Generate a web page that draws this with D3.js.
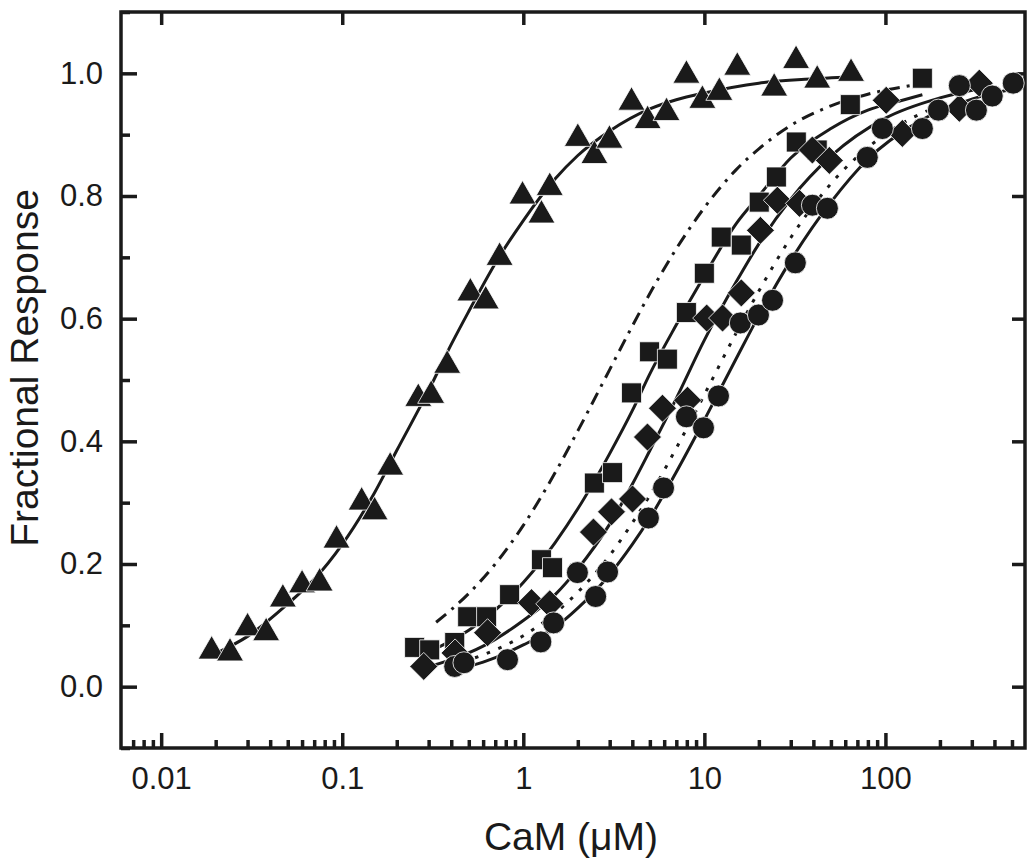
<!DOCTYPE html>
<html>
<head>
<meta charset="utf-8">
<script src="https://cdn.jsdelivr.net/npm/d3@7"></script>
<style>
  body { margin: 0; background: #fff; }
  svg { display: block; }
  text { font-family: "Liberation Sans", Arial, sans-serif; fill: #1a1a1a; }
</style>
</head>
<body>
<div id="chart"></div>
<script>
// data points, [CaM (uM), fractional response]
var triangles = [[0.019,0.058],[0.024,0.055],[0.030,0.096],[0.038,0.088],[0.047,0.143],[0.060,0.166],
  [0.075,0.169],[0.093,0.239],[0.128,0.301],[0.151,0.285],[0.184,0.358],[0.263,0.470],[0.31,0.475],
  [0.38,0.524],[0.51,0.642],[0.62,0.629],[0.74,0.70],[0.99,0.80],[1.26,0.769],[1.40,0.814],[2.0,0.894],
  [2.47,0.866],[2.99,0.891],[3.96,0.953],[4.86,0.923],[6.18,0.936],[7.96,0.997],[9.75,0.956],[12.1,0.969],
  [15.2,1.01],[24.3,0.976],[32.1,1.021],[42,0.989],[64.6,1.0]];

var squares = [[0.251,0.064],[0.304,0.060],[0.418,0.072],[0.493,0.114],[0.627,0.114],[0.84,0.150],
  [1.26,0.207],[1.45,0.194],[2.47,0.332],[3.11,0.349],[3.96,0.479],[4.98,0.546],[6.25,0.534],[7.96,0.610],
  [10.0,0.674],[12.4,0.733],[16.0,0.720],[20.1,0.790],[25.0,0.831],[32.2,0.888],[42,0.875],[64,0.949],
  [160,0.992]];

var diamonds = [[0.282,0.033],[0.42,0.055],[0.635,0.088],[1.11,0.137],[1.40,0.135],[2.44,0.252],
  [3.07,0.285],[4.01,0.306],[4.85,0.407],[5.87,0.454],[8.07,0.467],[10.3,0.601],[12.6,0.601],[16.0,0.642],
  [20.4,0.744],[25.3,0.793],[33.5,0.788],[39.5,0.875],[49,0.858],[101,0.956],[124,0.902],[256,0.943],
  [330,0.984]];

var circles = [[0.418,0.033],[0.47,0.039],[0.818,0.044],[1.25,0.073],[1.47,0.104],[1.99,0.186],
  [2.51,0.147],[2.92,0.187],[4.91,0.275],[5.95,0.324],[7.96,0.440],[9.89,0.422],[11.97,0.474],[15.8,0.593],
  [19.9,0.606],[23.8,0.630],[31.8,0.691],[39.5,0.785],[47.8,0.780],[79.4,0.863],[96.2,0.910],[160,0.910],
  [196,0.940],[256,0.980],[318,0.940],[389,0.963],[508,0.984]];

// fitted curves
var triFit = [[0.02,0.054],[0.03,0.082],[0.05,0.135],[0.07,0.175],[0.1,0.232],[0.15,0.315],[0.2,0.385],
  [0.3,0.483],[0.4,0.558],[0.5,0.612],[0.7,0.690],[1,0.760],[1.5,0.828],[2,0.866],[3,0.906],[5,0.942],
  [7,0.957],[10,0.968],[20,0.984],[40,0.991],[70,0.995]];
var sqFit = [[0.25,0.050],[0.35,0.066],[0.5,0.092],[0.7,0.125],[1,0.170],[1.5,0.235],[2,0.290],[3,0.380],
  [4,0.450],[5,0.510],[7,0.590],[10,0.670],[15,0.755],[20,0.800],[30,0.862],[50,0.910],[80,0.940],
  [120,0.955],[160,0.965]];
var diaFit = [[0.28,0.030],[0.4,0.044],[0.6,0.066],[1,0.108],[1.5,0.150],[2,0.192],[3,0.265],[4,0.330],
  [5,0.385],[7,0.470],[10,0.565],[15,0.660],[20,0.722],[30,0.795],[50,0.865],[100,0.927],[200,0.960],
  [330,0.975]];
var cirFit = [[0.43,0.028],[0.6,0.040],[1,0.068],[1.5,0.097],[2,0.128],[3,0.183],[4,0.232],[5,0.275],
  [7,0.350],[10,0.435],[15,0.535],[20,0.605],[30,0.695],[50,0.790],[80,0.860],[150,0.920],[300,0.958],
  [550,0.976]];
var dashDotFit = [[0.33,0.105],[0.5,0.152],[0.7,0.200],[1,0.263],[1.5,0.349],[2,0.417],[3,0.517],
  [4,0.588],[5,0.641],[7,0.714],[10,0.781],[15,0.843],[20,0.877],[30,0.915],[50,0.947],[80,0.966],
  [120,0.977],[155,0.982]];
var dotFit = [[0.4,0.035],[0.6,0.052],[1,0.083],[1.5,0.120],[2,0.154],[3,0.214],[4,0.267],[5,0.312],
  [7,0.389],[10,0.476],[15,0.577],[20,0.645],[30,0.732],[50,0.820],[80,0.879],[120,0.916],[170,0.939]];

var xMajor = [0.01, 0.1, 1, 10, 100];
var xLabels = ["0.01", "0.1", "1", "10", "100"];
var yMajor = [0.0, 0.2, 0.4, 0.6, 0.8, 1.0];
var yMinor = [-0.1, 0.1, 0.3, 0.5, 0.7, 0.9, 1.1];

var svgWidth = 1036;
var svgHeight = 865;
var ink = "#1a1a1a";

var margin = { top: 12, right: 11, bottom: 117, left: 121 };
var width = svgWidth - margin.left - margin.right;
var height = svgHeight - margin.top - margin.bottom;

var svg = d3.select("#chart")
    .append("svg")
    .attr("width", svgWidth)
    .attr("height", svgHeight);

var chartGroup = svg.append("g")
    .attr("transform", `translate(${margin.left}, ${margin.top})`);

var x = d3.scaleLog().domain([0.006, 590]).range([0, width]);
var y = d3.scaleLinear().domain([-0.1, 1.1]).range([height, 0]);

// minor log ticks: 2..9 of every decade inside the domain
var xMinor = [];
for (var e = -3; e <= 2; e++) {
    for (var m = 2; m <= 9; m++) {
        var v = m * Math.pow(10, e);
        if (v > 0.006 && v < 590) xMinor.push(v);
    }
}

function styleAxis(g) {
    g.select(".domain").remove();
    g.selectAll(".tick line").attr("stroke", ink).attr("stroke-width", 3.5);
    g.selectAll(".tick text")
        .style("font-family", '"Liberation Sans", Arial, sans-serif')
        .style("font-size", "31px")
        .attr("fill", ink);
}

// bottom axis
chartGroup.append("g")
    .attr("transform", `translate(0, ${height})`)
    .call(d3.axisBottom(x).tickValues(xMinor).tickSize(-8).tickFormat(""))
    .call(styleAxis);
chartGroup.append("g")
    .attr("transform", `translate(0, ${height})`)
    .call(d3.axisBottom(x).tickValues(xMajor).tickSize(-15).tickPadding(19)
        .tickFormat((d, i) => xLabels[i]))
    .call(styleAxis);

// top axis, majors only
chartGroup.append("g")
    .call(d3.axisTop(x).tickValues(xMajor).tickSize(-13).tickFormat(""))
    .call(styleAxis);

// left axis
chartGroup.append("g")
    .call(d3.axisLeft(y).tickValues(yMinor).tickSize(-9).tickFormat(""))
    .call(styleAxis);
chartGroup.append("g")
    .call(d3.axisLeft(y).tickValues(yMajor).tickSize(-16).tickPadding(18).tickFormat(d3.format(".1f")))
    .call(styleAxis);

// right axis
chartGroup.append("g")
    .attr("transform", `translate(${width}, 0)`)
    .call(d3.axisRight(y).tickValues(yMajor).tickSize(-13).tickFormat(""))
    .call(styleAxis);

// frame
chartGroup.append("rect")
    .attr("x", 0).attr("y", 0)
    .attr("width", width).attr("height", height)
    .attr("fill", "none")
    .attr("stroke", ink)
    .attr("stroke-width", 3.5);

// axis titles
svg.append("text")
    .attr("x", 571).attr("y", 850)
    .attr("text-anchor", "middle")
    .style("font-size", "39px")
    .text("CaM (\u03BCM)");

svg.append("text")
    .attr("transform", "translate(38, 368) rotate(-90)")
    .attr("text-anchor", "middle")
    .style("font-size", "39px")
    .text("Fractional Response");

// curves
var line = d3.line()
    .x(d => x(d[0]))
    .y(d => y(d[1]))
    .curve(d3.curveMonotoneX);

var plot = chartGroup.append("g");

function drawCurve(data, dash) {
    plot.append("path")
        .datum(data)
        .attr("d", line)
        .attr("fill", "none")
        .attr("stroke", ink)
        .attr("stroke-width", 3)
        .attr("stroke-dasharray", dash);
}

drawCurve(dashDotFit, "13,7,3,7");
drawCurve(dotFit, "3.5,9");
drawCurve(triFit, null);
drawCurve(sqFit, null);
drawCurve(diaFit, null);
drawCurve(cirFit, null);

// markers
function triPath() { return "M0,-15.5L13.5,8L-13.5,8Z"; }
function sqPath() { return "M-10,-10H10V10H-10Z"; }
function diaPath() { return "M0,-14L14,0L0,14L-14,0Z"; }
function cirPath() { return d3.symbol(d3.symbolCircle, Math.PI * 11 * 11)(); }

function drawMarkers(data, shape) {
    plot.append("g").selectAll("path")
        .data(data)
        .enter()
        .append("path")
        .attr("transform", d => `translate(${x(d[0])}, ${y(d[1])})`)
        .attr("d", shape)
        .attr("fill", ink)
        .attr("stroke", "#fff")
        .attr("stroke-width", 0.8);
}

drawMarkers(triangles, triPath);
drawMarkers(squares, sqPath);
drawMarkers(diamonds, diaPath);
drawMarkers(circles, cirPath);
</script>
</body>
</html>
